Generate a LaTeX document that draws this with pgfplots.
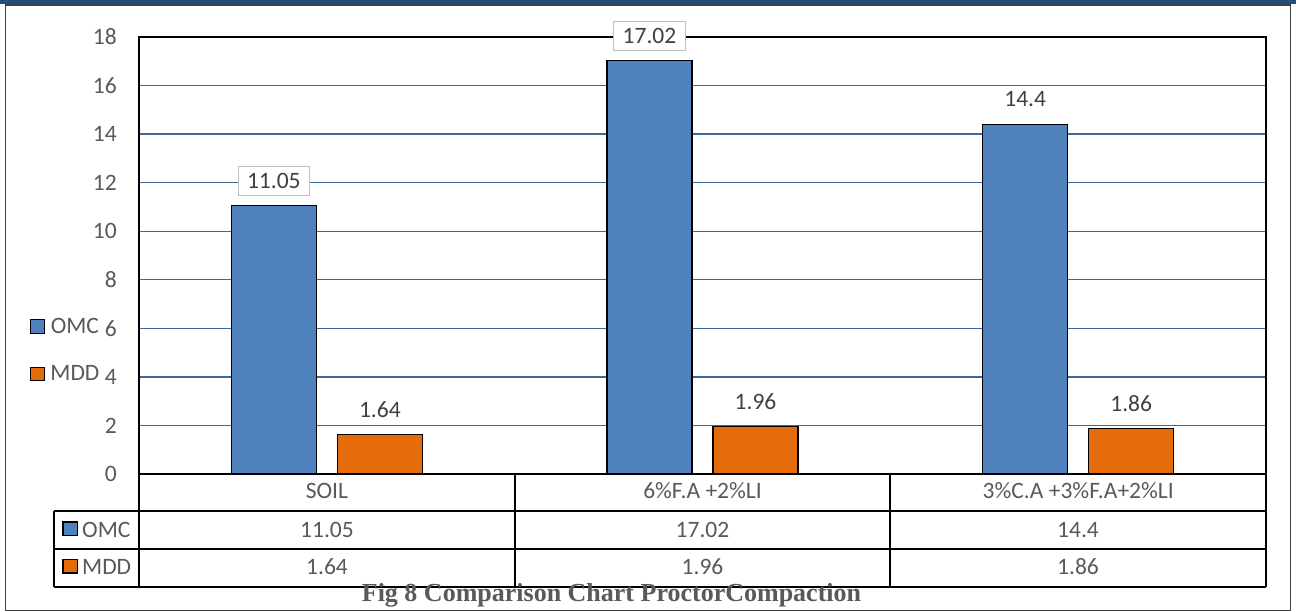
\documentclass[border=0pt]{standalone}
\usepackage{pgfplots}
\pgfplotsset{compat=1.18}
\usepackage{fontspec}
\setmainfont{Carlito}
\newfontfamily\capfont{Liberation Serif}

\definecolor{omc}{HTML}{4F81BD}
\definecolor{mdd}{HTML}{E46C0A}
\definecolor{gridblue}{HTML}{3C6A9A}
\definecolor{txt}{HTML}{595959}
\definecolor{lbl}{HTML}{404040}
\definecolor{topbar}{HTML}{1F4E79}
\definecolor{boxgray}{HTML}{BFBFBF}

\newcommand\chartfont{\fontsize{23.5bp}{28bp}\selectfont}

\begin{document}
\begin{tikzpicture}[x=1bp,y=1bp]
% page frame
\fill[topbar] (0,607.5) rectangle (1296,612);
\draw[color=black!75, line width=1.2bp] (5.5,1.5) rectangle (1290.5,607);

\begin{axis}[
  at={(139bp,138bp)}, anchor=south west,
  scale only axis, width=1127bp, height=437bp,
  xmin=-0.5, xmax=2.5, ymin=0, ymax=18,
  ytick={0,2,...,18},
  xtick={0,1,2},
  xticklabels={SOIL, 6\%F.A +2\%LI, 3\%C.A +3\%F.A+2\%LI},
  major tick length=0pt,
  /pgf/number format/assume math mode=true,
  ymajorgrids,
  major grid style={color=gridblue, line width=1.3bp},
  axis line style={black, line width=1.5bp},
  yticklabel style={font=\chartfont, text=txt, inner sep=0pt, xshift=-22bp},
  xticklabel style={font=\chartfont, text=txt, inner sep=0pt, anchor=base, yshift=-25bp},
  clip=false,
  ybar, bar width=85bp,
  nodes near coords,
  every node near coord/.append style={font=\chartfont, text=lbl, anchor=center, yshift=25bp},
  legend style={at={(axis description cs:-0.0967,0.3593)}, anchor=north west,
    draw=none, fill=none, inner sep=0pt, font=\chartfont, text=txt,
    column sep=5bp, row sep=31bp,
    nodes={inner sep=0pt, text height=16bp, text depth=0bp, anchor=base}},
  legend cell align=left,
]
% OMC (optimum moisture content, %)
\addplot[fill=omc, draw=black, line width=1.3bp, bar shift=-53bp,
  every node near coord/.append style={draw=boxgray, fill=white, line width=1bp, inner xsep=9bp, inner ysep=7bp},
  legend image code/.code={\draw[fill=omc, draw=black, line width=1.2bp] (0,0) rectangle (14bp,13.5bp);}]
  coordinates {(0,11.05) (1,17.02)};
\addlegendentry{OMC}
\addplot[fill=omc, draw=black, line width=1.3bp, bar shift=-53bp, forget plot]
  coordinates {(2,14.4)};
% MDD (maximum dry density, g/cc)
\addplot[fill=mdd, draw=black, line width=1.3bp, bar shift=53bp,
  legend image code/.code={\draw[fill=mdd, draw=black, line width=1.2bp] (0,0) rectangle (14bp,13.5bp);}]
  coordinates {(0,1.64) (1,1.96) (2,1.86)};
\addlegendentry{MDD}
\end{axis}

% data table below the axis
\begin{scope}[line width=1.5bp, black]
  \draw (54,101) -- (1266,101);
  \draw (54,63) -- (1266,63);
  \draw (54,25) -- (1266,25);
  \draw (54,101) -- (54,25);
  \draw (139,138) -- (139,25);
  \draw (515,138) -- (515,25);
  \draw (890,138) -- (890,25);
  \draw (1266,138) -- (1266,25);
\end{scope}
\draw[fill=omc, draw=black, line width=1.2bp] (63,76.5) rectangle (77.5,90);
\draw[fill=mdd, draw=black, line width=1.2bp] (63,39) rectangle (77.5,52.5);
\begin{scope}[every node/.style={font=\chartfont, text=txt, inner sep=0pt, anchor=base}]
  \node[anchor=base west] at (82,74.3) {OMC};
  \node[anchor=base west] at (82,37) {MDD};
  \node at (327,74.3) {11.05};
  \node at (702.5,74.3) {17.02};
  \node at (1078,74.3) {14.4};
  \node at (327,37) {1.64};
  \node at (702.5,37) {1.96};
  \node at (1078,37) {1.86};
\end{scope}

\node[anchor=base, inner sep=0pt, text=txt, font=\capfont\bfseries\fontsize{26bp}{30bp}\selectfont]
  at (611.5,10.3) {Fig 8 Comparison Chart ProctorCompaction};

\pgfresetboundingbox
\useasboundingbox (0,0) rectangle (1296,612);
\end{tikzpicture}
\end{document}
